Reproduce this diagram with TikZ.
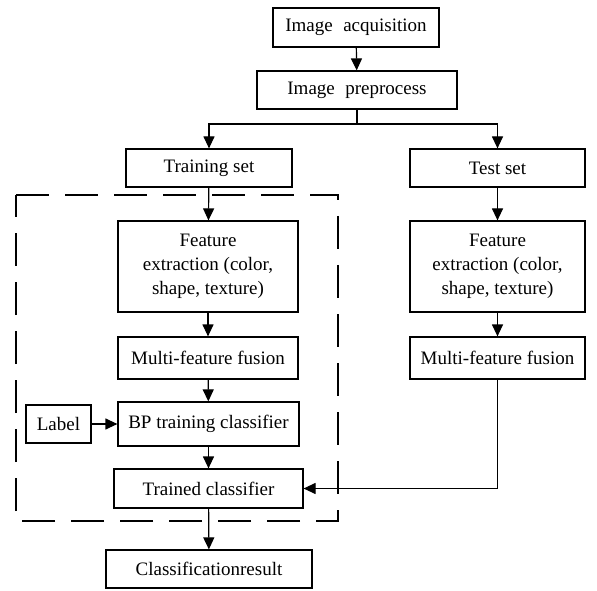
\documentclass[tikz,border=0pt]{standalone}
\usepackage{fontspec}
\setmainfont{Liberation Serif}
\usetikzlibrary{arrows.meta}
\begin{document}
\begin{tikzpicture}[x=1pt,y=1pt,
  box/.style={draw,line width=1.2pt,inner sep=0pt,align=center,font=\fontsize{19}{24}\selectfont},
  arr/.style={line width=1.2pt,-{Triangle[length=12pt,width=11pt]}},
  ln/.style={line width=1.2pt}]
\useasboundingbox (0,0) rectangle (597,590);
\node[box,minimum width=166,minimum height=39] (acq) at (356,562.5) {Image\hspace{0.3em} acquisition};
\node[box,minimum width=200,minimum height=38] (pre) at (357,500) {Image\hspace{0.3em} preprocess};
\node[box,minimum width=166,minimum height=38] (train) at (209,422) {Training set};
\node[box,minimum width=175,minimum height=38] (test) at (497.5,422) {Test set};
\node[box,minimum width=180,minimum height=91] (fe1) at (208,323.5) {Feature\\extraction (color,\\shape, texture)};
\node[box,minimum width=175,minimum height=91] (fe2) at (497.5,323.5) {Feature\\extraction (color,\\shape, texture)};
\node[box,minimum width=180,minimum height=42] (mf1) at (208,232) {Multi-feature fusion};
\node[box,minimum width=175,minimum height=42] (mf2) at (497.5,232) {Multi-feature fusion};
\node[box,minimum width=65,minimum height=38] (lab) at (58.5,166) {Label};
\node[box,minimum width=181,minimum height=44] (bp) at (208.5,166) {BP training classifier};
\node[box,minimum width=189,minimum height=39] (tc) at (208.5,101.5) {Trained classifier};
\node[box,minimum width=206,minimum height=38] (cr) at (209,21) {Classificationresult};
\coordinate (br) at (357,466);
\draw[line width=2pt,dash pattern=on 33pt off 16pt] (16,395) -- (338,395) -- (338,69) -- (16,69) -- cycle;
\draw[arr] (acq) -- (pre);
\draw[ln] (pre.south) -- (br);
\draw[arr] (br) -| (train.north);
\draw[arr] (br) -| (test.north);
\draw[arr] (train) -- (fe1);
\draw[arr] (fe1) -- (mf1);
\draw[arr] (mf1) -- (bp);
\draw[arr] (lab) -- (bp);
\draw[arr] (bp) -- (tc);
\draw[arr] (tc) -- (cr);
\draw[arr] (test) -- (fe2);
\draw[arr] (fe2) -- (mf2);
\draw[arr] (mf2.south) |- (tc.east);
\end{tikzpicture}
\end{document}
